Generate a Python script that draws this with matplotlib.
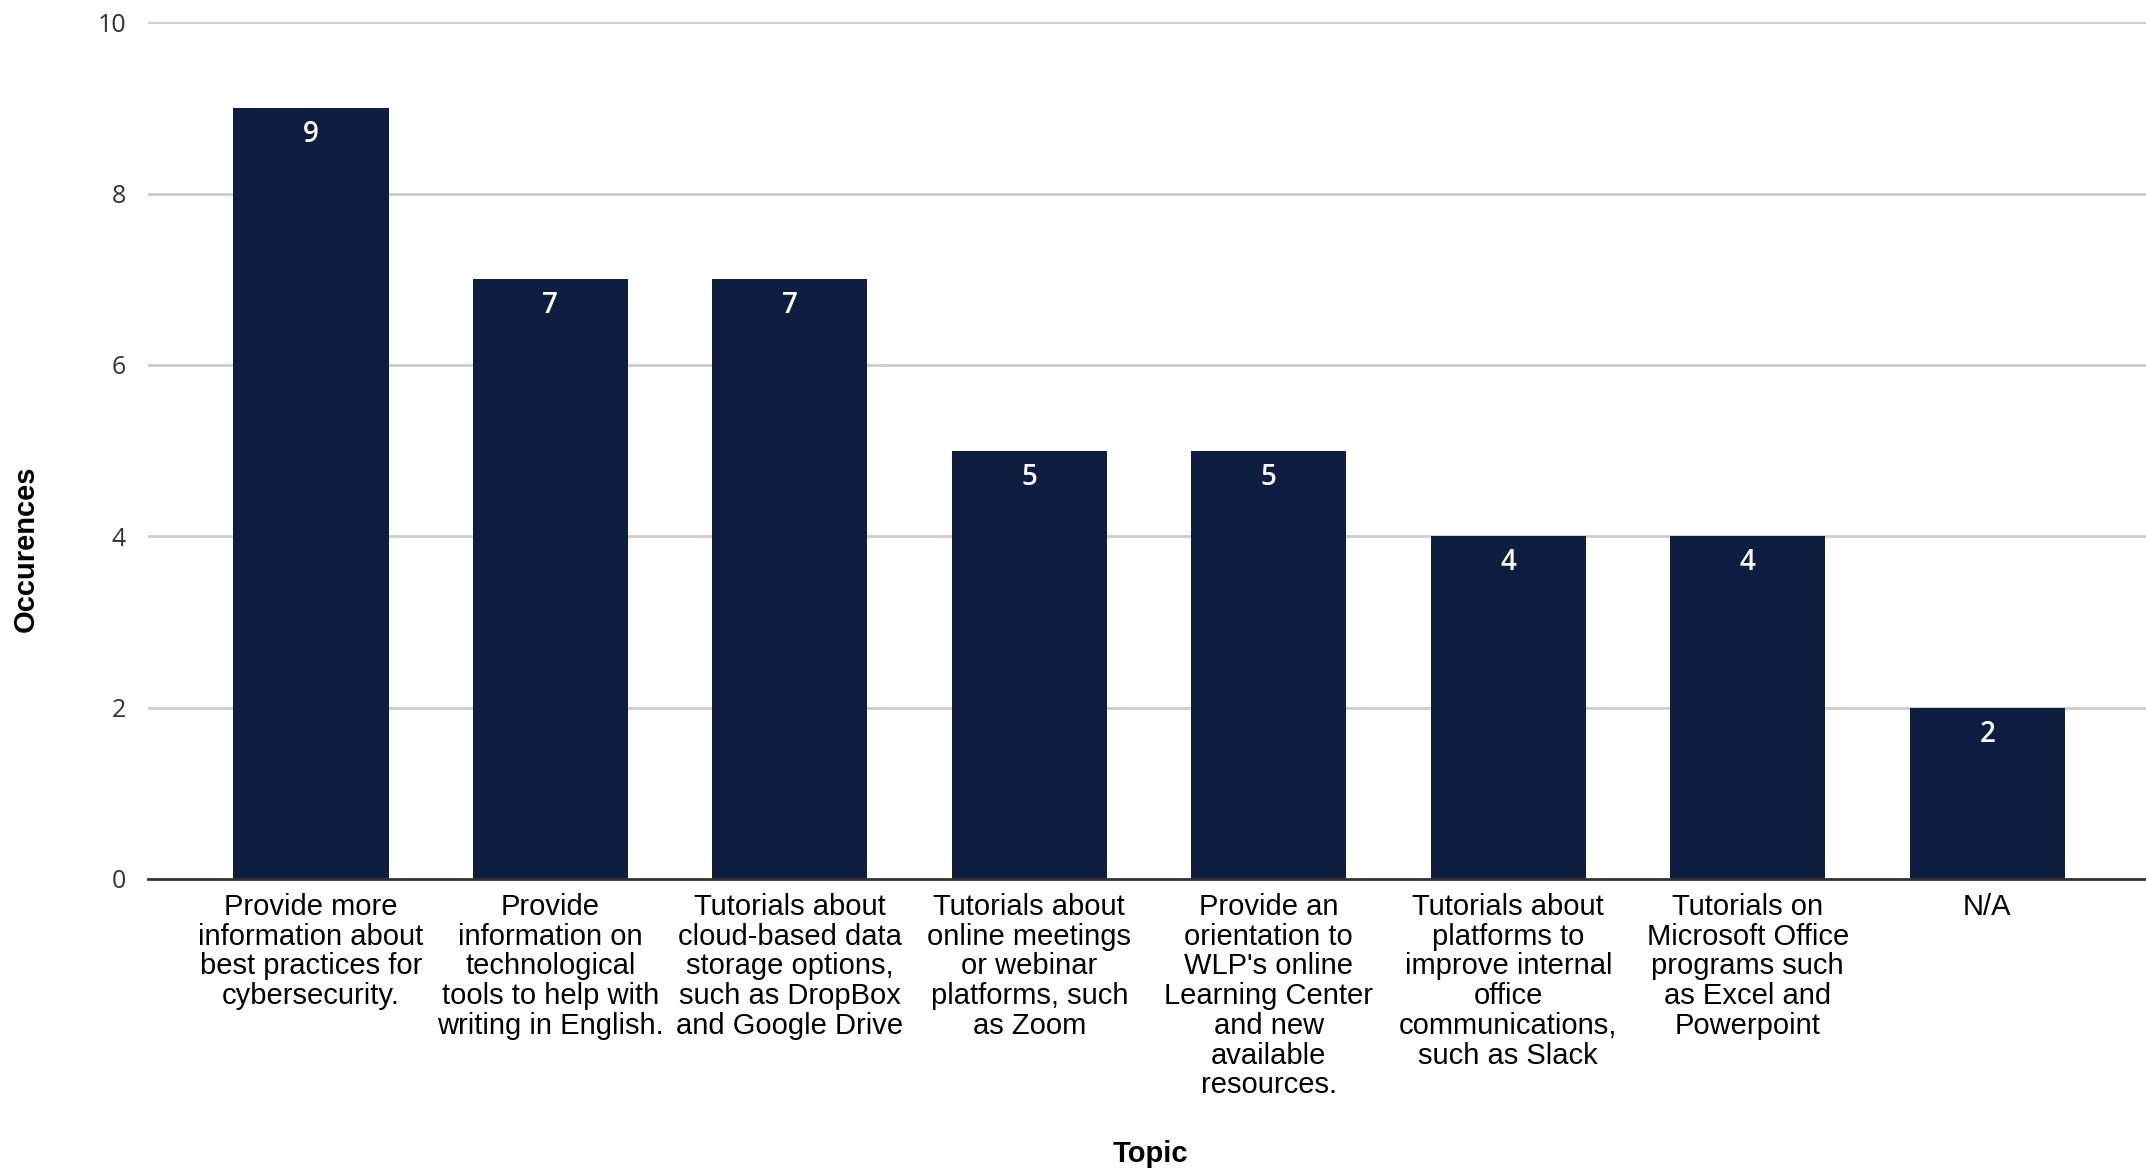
import matplotlib.pyplot as plt

# datos
topics = [
    "Provide more\ninformation about\nbest practices for\ncybersecurity.",
    "Provide\ninformation on\ntechnological\ntools to help with\nwriting in English.",
    "Tutorials about\ncloud-based data\nstorage options,\nsuch as DropBox\nand Google Drive",
    "Tutorials about\nonline meetings\nor webinar\nplatforms, such\nas Zoom",
    "Provide an\norientation to\nWLP's online\nLearning Center\nand new\navailable\nresources.",
    "Tutorials about\nplatforms to\nimprove internal\noffice\ncommunications,\nsuch as Slack",
    "Tutorials on\nMicrosoft Office\nprograms such\nas Excel and\nPowerpoint",
    "N/A",
]
occurences = [9, 7, 7, 5, 5, 4, 4, 2]
y_ticks = [0, 2, 4, 6, 8, 10]

label_font = ['Liberation Sans', 'DejaVu Sans']
num_font = ['Open Sans', 'DejaVu Sans']
bar_color = '#0e1e40'

fig = plt.figure(figsize=(21.46, 11.72), dpi=100)
ax = fig.add_axes([0.069, 0.25, 0.931, 0.731])

x = list(range(len(occurences)))
ax.bar(x, occurences, width=0.648, color=bar_color, zorder=3)

# etiquetas de valor dentro de las barras
for xi, v in zip(x, occurences):
    ax.text(xi, v - 0.31, str(v), ha='center', va='center', color='white',
            fontsize=20, fontweight='semibold', family=num_font, zorder=4)

ax.set_xlim(-0.68, 7.663)
ax.set_ylim(0, 10)
ax.set_yticks(y_ticks)
ax.set_yticklabels([str(t) for t in y_ticks], fontsize=18, color='#333333',
                   family=num_font)
ax.set_xticks(x)
ax.set_xticklabels(topics, fontsize=21, family=label_font, color='black',
                   linespacing=1.08, va='top')
ax.tick_params(axis='both', length=0)
ax.tick_params(axis='x', pad=10)
ax.tick_params(axis='y', pad=16)

ax.grid(axis='y', color='#cccccc', linewidth=2, zorder=0)
for side in ['top', 'right', 'left']:
    ax.spines[side].set_visible(False)
ax.spines['bottom'].set_color('#333333')
ax.spines['bottom'].set_linewidth(2)
ax.spines['bottom'].set_zorder(5)

fig.text(0.012, 0.532, 'Occurences', rotation=90, ha='center', va='center',
         fontsize=21, fontweight='bold', family=label_font)
fig.text(0.536, 0.015, 'Topic', ha='center', va='center',
         fontsize=21, fontweight='bold', family=label_font)

fig.savefig('out.png', dpi=100)
